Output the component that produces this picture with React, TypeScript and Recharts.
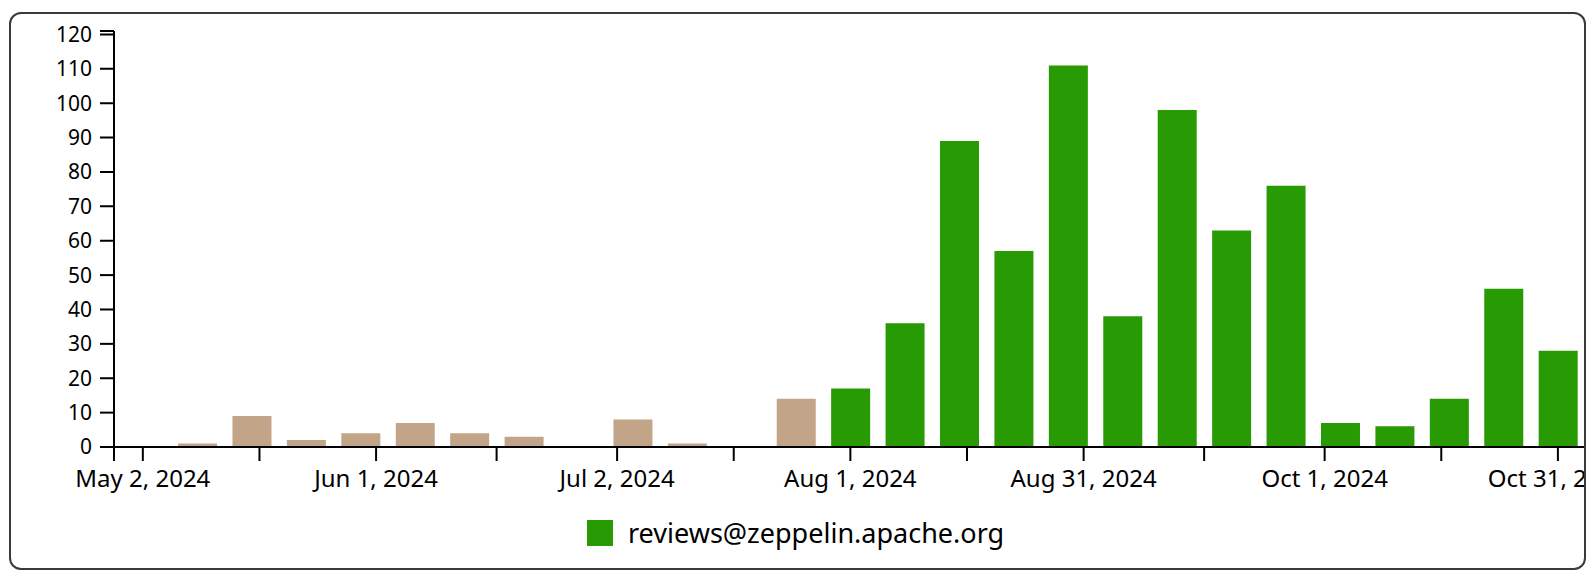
import { Bar, BarChart, Cell, XAxis, YAxis } from "recharts";

// weekly message counts, one bar per Thursday
const WEEKS = [
  "2024-05-02", "2024-05-09", "2024-05-16", "2024-05-23", "2024-05-30",
  "2024-06-06", "2024-06-13", "2024-06-20", "2024-06-27", "2024-07-04",
  "2024-07-11", "2024-07-18", "2024-07-25", "2024-08-01", "2024-08-08",
  "2024-08-15", "2024-08-22", "2024-08-29", "2024-09-05", "2024-09-12",
  "2024-09-19", "2024-09-26", "2024-10-03", "2024-10-10", "2024-10-17",
  "2024-10-24", "2024-10-31",
];
const COUNTS = [
  0, 1, 9, 2, 4, 7, 4, 3, 0, 8, 1, 0, 14, 17, 36, 89, 57, 111, 38, 98, 63, 76,
  7, 6, 14, 46, 28,
];
// weeks before this date are drawn in the muted colour
const LIST_START = "2024-08-01";
const LIST_NAME = "reviews@zeppelin.apache.org";

const X_DOMAIN = ["2024-04-28T07:00:00Z", "2024-11-04T00:00:00Z"];
const X_TICKS = [
  "2024-04-28T07:00:00Z", "2024-05-02", "2024-05-17", "2024-06-01",
  "2024-06-16T12:00:00Z", "2024-07-02", "2024-07-17", "2024-08-01",
  "2024-08-16", "2024-08-31", "2024-09-15T12:00:00Z", "2024-10-01",
  "2024-10-16", "2024-10-31",
];
const X_TICK_LABELS = [
  "", "May 2, 2024", "", "Jun 1, 2024", "", "Jul 2, 2024", "", "Aug 1, 2024",
  "", "Aug 31, 2024", "", "Oct 1, 2024", "", "Oct 31, 2024",
];
const Y_TICKS = [0, 10, 20, 30, 40, 50, 60, 70, 80, 90, 100, 110, 120, 121];
const Y_MAX = 121;

const GREEN = "#289a03";
const TAN = "#c2a588";
const FONT = "'Noto Sans', 'DejaVu Sans', sans-serif";

const data = WEEKS.map((w, i) => ({ t: Date.parse(w), count: COUNTS[i], week: w }));
const xTicks = X_TICKS.map((d) => Date.parse(d));
const startT = Date.parse(LIST_START);

export default function App() {
  return (
    <div
      style={{
        position: "absolute",
        left: 9,
        top: 12,
        width: 1577,
        height: 558,
        border: "2px solid #3a3a3a",
        borderRadius: 12,
        boxSizing: "border-box",
        overflow: "hidden",
        background: "#fff",
        fontFamily: FONT,
      }}
    >
      <div style={{ position: "absolute", left: -11, top: -14 }}>
        <BarChart
          width={1595}
          height={582}
          data={data}
          margin={{ top: 31, right: 6, bottom: 95, left: 14 }}
          style={{ fontFamily: FONT }}
        >
          <XAxis
            type="number"
            dataKey="t"
            domain={X_DOMAIN.map((d) => Date.parse(d))}
            ticks={xTicks}
            interval={0}
            height={40}
            tickSize={14}
            tickMargin={9}
            tickFormatter={(v) => X_TICK_LABELS[xTicks.indexOf(v as number)] ?? ""}
            tick={{ fill: "#000", fontSize: 24 }}
            axisLine={{ stroke: "#000", strokeWidth: 2 }}
            tickLine={{ stroke: "#000", strokeWidth: 2 }}
          />
          <YAxis
            type="number"
            domain={[0, Y_MAX]}
            ticks={Y_TICKS}
            interval={0}
            width={100}
            tickSize={14}
            tickMargin={8}
            tickFormatter={(v) => (v === Y_MAX ? "" : String(v))}
            tick={{ fill: "#000", fontSize: 21 }}
            axisLine={{ stroke: "#000", strokeWidth: 2 }}
            tickLine={{ stroke: "#000", strokeWidth: 2 }}
          />
          <Bar dataKey="count" name={LIST_NAME} barSize={39} isAnimationActive={false}>
            {data.map((d) => (
              <Cell key={d.week} fill={d.t >= startT ? GREEN : TAN} />
            ))}
          </Bar>
        </BarChart>
      </div>
      <div
        style={{
          position: "absolute",
          left: 587 - 11,
          top: 520 - 14,
          display: "flex",
          alignItems: "center",
          gap: 15,
        }}
      >
        <div style={{ width: 26, height: 26, background: GREEN }} />
        <span style={{ fontSize: 27, color: "#000", lineHeight: "26px" }}>{LIST_NAME}</span>
      </div>
    </div>
  );
}
